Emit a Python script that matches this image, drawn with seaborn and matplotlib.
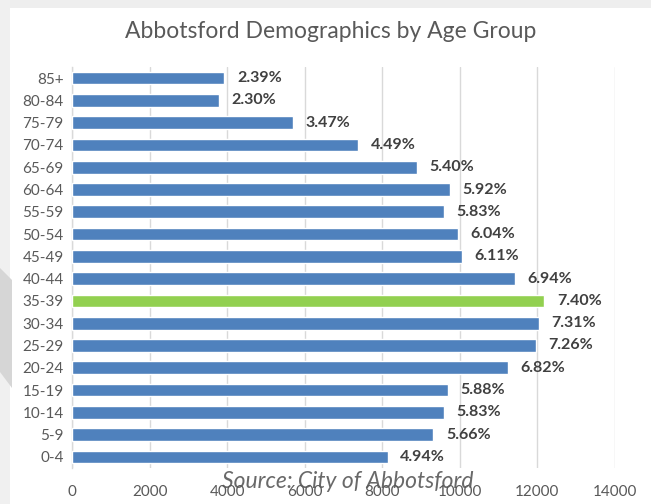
import matplotlib
matplotlib.use("Agg")
import matplotlib.pyplot as plt
import seaborn as sns
import pandas as pd
from matplotlib.patches import Polygon, Rectangle

age_groups = ["85+", "80-84", "75-79", "70-74", "65-69", "60-64", "55-59", "50-54",
              "45-49", "40-44", "35-39", "30-34", "25-29", "20-24", "15-19", "10-14",
              "5-9", "0-4"]
population = [3930, 3780, 5700, 7380, 8890, 9750, 9600, 9950,
              10060, 11430, 12180, 12040, 11960, 11240, 9690, 9600,
              9320, 8140]
pct_labels = ["2.39%", "2.30%", "3.47%", "4.49%", "5.40%", "5.92%", "5.83%", "6.04%",
              "6.11%", "6.94%", "7.40%", "7.31%", "7.26%", "6.82%", "5.88%", "5.83%",
              "5.66%", "4.94%"]
highlight = "35-39"
x_ticks = [0, 2000, 4000, 6000, 8000, 10000, 12000, 14000]

BLUE = "#4f81bd"
GREEN = "#92d050"

sns.set_theme(style="white")
plt.rcParams["font.family"] = ["Lato", "DejaVu Sans"]

df = pd.DataFrame({"age": age_groups, "pop": population})
palette = {a: (GREEN if a == highlight else BLUE) for a in age_groups}

fig = plt.figure(figsize=(6.51, 5.04), dpi=100)
fig.patch.set_facecolor("white")

# decorative screenshot frame
fig.patches.append(Rectangle((0, 1 - 8 / 504), 1, 8 / 504, transform=fig.transFigure,
                             facecolor="#eeeeee", edgecolor="none", zorder=0))
fig.patches.append(Rectangle((0, 0), 10 / 651, 1, transform=fig.transFigure,
                             facecolor="#f0f0f0", edgecolor="none", zorder=0))
fig.patches.append(Polygon([(0, 1 - 268 / 504), (12 / 651, 1 - 268 / 504 - 12 / 504),
                            (12 / 651, 1 - 388 / 504), (0, 1 - 372 / 504)],
                           closed=True, transform=fig.transFigure,
                           facecolor="#d6d6d6", edgecolor="none", zorder=0))

ax = fig.add_axes([72 / 651, 1 - 468 / 504, (615 - 72) / 651, (468 - 67) / 504])
ax.set_facecolor("none")

sns.barplot(data=df, y="age", x="pop", hue="age", palette=palette, order=age_groups,
            hue_order=age_groups, legend=False, width=0.57, saturation=1,
            orient="h", ax=ax, zorder=3)

for cont, lab in zip(ax.containers, pct_labels):
    ax.bar_label(cont, labels=[lab], padding=9, fontsize=11.5, fontweight="bold",
                 color="#404040")

ax.set_xlim(0, 14000)
ax.set_ylim(17.5, -0.5)
ax.set_xticks(x_ticks)
ax.set_xticklabels([str(t) for t in x_ticks])
ax.xaxis.grid(True, color="#d9d9d9", linewidth=1)
ax.yaxis.grid(False)
for s in ["top", "right", "bottom"]:
    ax.spines[s].set_visible(False)
ax.spines["left"].set_color("#d9d9d9")
ax.spines["left"].set_linewidth(1)
ax.tick_params(axis="both", length=0, labelsize=11, labelcolor="#595959")
ax.tick_params(axis="x", pad=12)
ax.tick_params(axis="y", pad=6)
ax.set_xlabel("")
ax.set_ylabel("")

fig.text(331 / 651, 1 - 31 / 504, "Abbotsford Demographics by Age Group",
         ha="center", va="center", fontsize=16.5, color="#595959")
fig.text(348 / 651, 1 - 482 / 504, "Source: City of Abbotsford", ha="center",
         va="center", fontsize=16.5, style="italic", color="#595959", alpha=0.9)

fig.savefig("out.png", dpi=100)
